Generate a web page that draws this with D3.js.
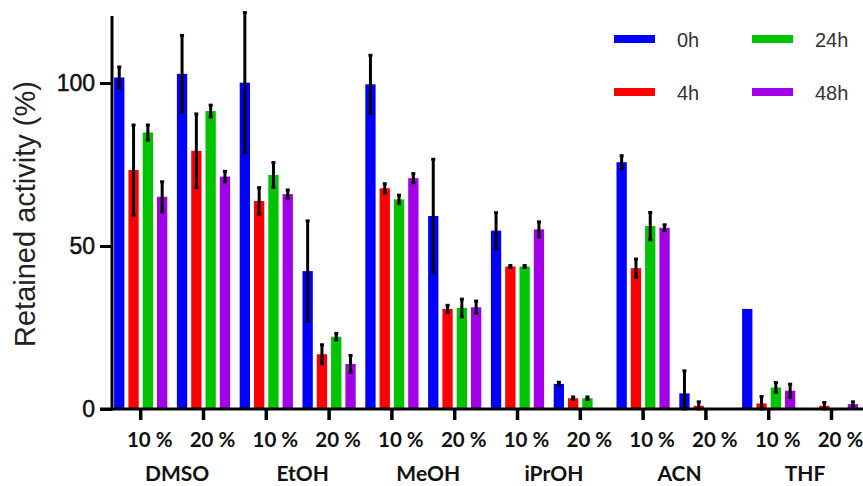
<!DOCTYPE html>
<html>
<head>
<meta charset="utf-8">
<script src="https://cdn.jsdelivr.net/npm/d3@7"></script>
<style>
  html, body { margin: 0; padding: 0; background: #fff; }
  svg { display: block; }
</style>
</head>
<body>
<svg id="chart" width="863" height="486"></svg>
<script>
// ---------- data ----------
const solvents = ["DMSO", "EtOH", "MeOH", "iPrOH", "ACN", "THF"];
const concentrations = ["10 %", "20 %"];
const seriesNames = ["0h", "4h", "24h", "48h"];
const yTicks = [0, 50, 100];

// values in order DMSO10, DMSO20, EtOH10, EtOH20, MeOH10, MeOH20, iPrOH10, iPrOH20, ACN10, ACN20, THF10, THF20
const h0     = [101.7, 102.8, 100.1, 42.3, 99.6, 59.2, 54.7, 7.7, 75.7, 4.8, 30.7, 0.3];
const h0Err  = [3.2, 11.8, 21.5, 15.4, 8.9, 17.4, 5.5, 0.5, 2.0, 6.9, 0, 0];
const h4     = [73.3, 79.2, 63.8, 16.8, 67.7, 30.7, 43.7, 3.3, 43.2, 1.0, 1.7, 1.0];
const h4Err  = [13.8, 11.3, 4.1, 2.9, 1.4, 1.1, 0.3, 0.4, 2.8, 1.2, 2.1, 1.0];
const h24    = [84.8, 91.4, 71.8, 22.2, 64.3, 31.0, 43.7, 3.3, 56.1, 0.3, 6.6, 0];
const h24Err = [2.3, 1.8, 3.8, 1.0, 1.3, 2.7, 0.3, 0.4, 4.2, 0, 1.5, 0];
const h48    = [65.1, 71.3, 65.9, 13.8, 70.8, 31.2, 55.1, 0, 55.6, 0, 5.6, 1.5];
const h48Err = [4.6, 1.6, 1.3, 2.6, 1.4, 1.9, 2.3, 0, 0.9, 0, 2.0, 0.7];

const seriesValues = [h0, h4, h24, h48];
const seriesErrors = [h0Err, h4Err, h24Err, h48Err];
const colors = ["#0000ff", "#ff0000", "#00c400", "#a200e6"];

// ---------- build table ----------
const groups = [];
solvents.forEach(s => concentrations.forEach(c => groups.push({ solvent: s, conc: c, key: s + "|" + c })));
const rows = [];
groups.forEach((g, gi) => {
  seriesNames.forEach((sn, si) => {
    rows.push({ group: g.key, series: sn, si, value: seriesValues[si][gi], err: seriesErrors[si][gi] });
  });
});

// ---------- layout ----------
const svg = d3.select("#chart");
const yAxisX = 112;
const x0 = d3.scaleBand()
  .domain(groups.map(g => g.key))
  .range([109.3, 862.9])
  .paddingInner(0.153)
  .paddingOuter(0.0765);
const x1 = d3.scaleBand()
  .domain(seriesNames)
  .range([0, x0.bandwidth()])
  .paddingInner(0.28)
  .paddingOuter(0);
const y = d3.scaleLinear().domain([0, 120]).range([409, 409 - 120 * 3.26]);
const color = d3.scaleOrdinal().domain(seriesNames).range(colors);

// ---------- bars ----------
const bars = svg.append("g");
bars.selectAll("rect")
  .data(rows.filter(d => d.value > 0))
  .join("rect")
  .attr("x", d => x0(d.group) + x1(d.series))
  .attr("width", x1.bandwidth())
  .attr("y", d => y(d.value))
  .attr("height", d => y(0) - y(d.value))
  .attr("fill", d => color(d.series));

// ---------- error bars ----------
const errG = svg.append("g").attr("stroke", "#000").attr("stroke-width", 3);
const errRows = rows.filter(d => d.err > 0);
errG.selectAll("line.v")
  .data(errRows)
  .join("line")
  .attr("class", "v")
  .attr("x1", d => x0(d.group) + x1(d.series) + x1.bandwidth() / 2)
  .attr("x2", d => x0(d.group) + x1(d.series) + x1.bandwidth() / 2)
  .attr("y1", d => y(d.value + d.err))
  .attr("y2", d => y(Math.max(0, d.value - d.err)));
errG.selectAll("line.cap")
  .data(errRows.flatMap(d => [{ d, v: d.value + d.err }, { d, v: Math.max(0, d.value - d.err) }]))
  .join("line")
  .attr("class", "cap")
  .attr("x1", e => x0(e.d.group) + x1(e.d.series) + x1.bandwidth() / 2 - 2)
  .attr("x2", e => x0(e.d.group) + x1(e.d.series) + x1.bandwidth() / 2 + 2)
  .attr("y1", e => y(e.v))
  .attr("y2", e => y(e.v));

// ---------- axes ----------
// y axis
const yAxis = d3.axisLeft(y).tickValues(yTicks).tickSize(12).tickPadding(5).tickFormat(d3.format("d"));
const gy = svg.append("g").attr("transform", `translate(${yAxisX},0)`).call(yAxis);
gy.select(".domain").remove();
gy.append("line").attr("x1", 0).attr("x2", 0).attr("y1", 16).attr("y2", y(0) + 1.5)
  .attr("stroke", "#000").attr("stroke-width", 3);
gy.selectAll(".tick line").attr("stroke", "#000").attr("stroke-width", 3);
gy.selectAll(".tick text")
  .attr("fill", "#111")
  .attr("stroke", "#111")
  .attr("stroke-width", 0.5)
  .style("font-family", "'Liberation Sans', Arial, sans-serif")
  .style("font-size", "23px");

// x axis
const xAxis = d3.axisBottom(x0).tickSize(11).tickFormat(() => "");
const gx = svg.append("g").attr("transform", `translate(0,${y(0)})`).call(xAxis);
gx.select(".domain").remove();
gx.append("line").attr("x1", 100).attr("x2", 863).attr("y1", 0).attr("y2", 0)
  .attr("stroke", "#000").attr("stroke-width", 3);
gx.selectAll(".tick line").attr("stroke", "#000").attr("stroke-width", 3.5);

// concentration labels
const labelFont = "Lato, 'Open Sans', sans-serif";
svg.append("g").selectAll("text")
  .data(groups)
  .join("text")
  .attr("x", g => x0(g.key) + x0.bandwidth() / 2 + 9)
  .attr("y", 447)
  .attr("text-anchor", "middle")
  .attr("fill", "#111")
  .style("font-family", labelFont)
  .style("font-weight", 700)
  .style("font-size", "20.5px")
  .text(g => g.conc);

// solvent labels
svg.append("g").selectAll("text")
  .data(solvents)
  .join("text")
  .attr("x", s => (x0(s + "|10 %") + x0(s + "|20 %") + x0.bandwidth()) / 2 + 5)
  .attr("y", 481)
  .attr("text-anchor", "middle")
  .attr("fill", "#111")
  .style("font-family", labelFont)
  .style("font-weight", 700)
  .style("font-size", "21px")
  .text(s => s);

// y axis title
svg.append("text")
  .attr("transform", `translate(35,${214}) rotate(-90)`)
  .attr("text-anchor", "middle")
  .attr("fill", "#222")
  .style("font-family", "'Liberation Sans', Arial, sans-serif")
  .style("font-size", "29px")
  .text("Retained activity (%)");

// ---------- legend ----------
const legendPos = [
  { x: 614, y: 39 }, { x: 614, y: 92 }, { x: 752, y: 39 }, { x: 752, y: 92 }
];
const lg = svg.append("g").selectAll("g")
  .data(seriesNames)
  .join("g")
  .attr("transform", (d, i) => `translate(${legendPos[i].x},${legendPos[i].y})`);
lg.append("rect").attr("x", 0).attr("y", -4).attr("width", 41).attr("height", 8)
  .attr("fill", d => color(d));
lg.append("text").attr("x", 63).attr("y", 8)
  .attr("fill", "#333")
  .style("font-family", "'Liberation Sans', Arial, sans-serif")
  .style("font-size", "20px")
  .text(d => d);
</script>
</body>
</html>
